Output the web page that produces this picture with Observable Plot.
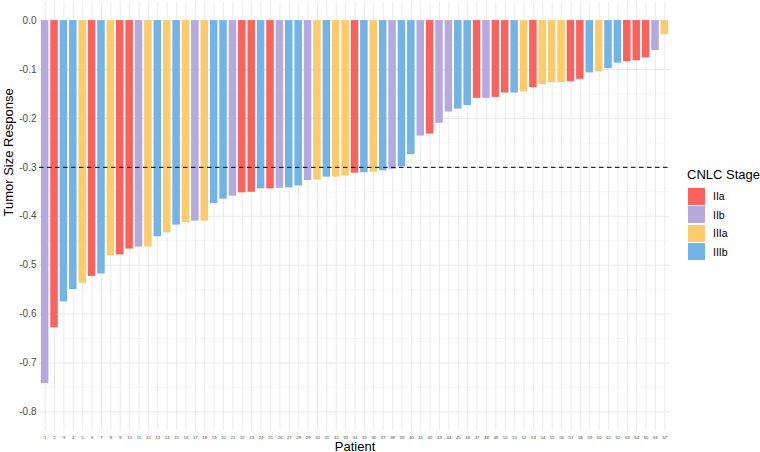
<!DOCTYPE html>
<html>
<head>
<meta charset="utf-8">
<script src="https://cdn.jsdelivr.net/npm/d3@7"></script>
<script src="https://cdn.jsdelivr.net/npm/@observablehq/plot@0.6"></script>
<style>
  html, body { margin: 0; padding: 0; background: #fff; }
  #wrap { position: relative; width: 760px; height: 452px; font-family: "Liberation Sans", Arial, sans-serif; }
  #legend { position: absolute; left: 687px; top: 167px; font-family: "Liberation Sans", Arial, sans-serif; }
  #legend .title { font-size: 13px; color: #000; margin-bottom: 5px; white-space: nowrap; }
  #legend .row { display: flex; align-items: center; height: 18.5px; }
  #legend .sw { width: 17px; height: 17px; margin-left: 1px; }
  #legend .lab { font-size: 10.5px; color: #000; margin-left: 8px; }
</style>
</head>
<body>
<div id="wrap"><div id="legend"></div></div>
<script>
const patients = [1,2,3,4,5,6,7,8,9,10,11,12,13,14,15,16,17,18,19,20,21,22,23,24,25,26,27,28,29,30,31,32,33,34,35,36,37,38,39,40,41,42,43,44,45,46,47,48,49,50,51,52,53,54,55,56,57,58,59,60,61,62,63,64,65,66,67];
const responses = [-0.742,-0.628,-0.575,-0.550,-0.537,-0.523,-0.518,-0.481,-0.479,-0.467,
  -0.463,-0.463,-0.442,-0.434,-0.418,-0.413,-0.410,-0.410,-0.374,-0.365,
  -0.359,-0.352,-0.351,-0.344,-0.344,-0.343,-0.342,-0.338,-0.327,-0.326,
  -0.320,-0.320,-0.318,-0.312,-0.311,-0.310,-0.307,-0.304,-0.299,-0.274,
  -0.236,-0.232,-0.210,-0.187,-0.181,-0.174,-0.159,-0.159,-0.157,-0.148,
  -0.148,-0.146,-0.137,-0.131,-0.127,-0.127,-0.125,-0.120,-0.107,-0.105,
  -0.098,-0.087,-0.084,-0.082,-0.076,-0.061,-0.029];
const stages = ["IIb","IIa","IIIb","IIIb","IIIa","IIa","IIIb","IIIa","IIa","IIa",
  "IIb","IIIa","IIIb","IIIa","IIIb","IIIa","IIb","IIIa","IIIb","IIIb",
  "IIb","IIa","IIa","IIIb","IIa","IIb","IIIb","IIIb","IIb","IIIa",
  "IIIb","IIIa","IIIa","IIa","IIIb","IIIa","IIIb","IIb","IIIb","IIIb",
  "IIb","IIa","IIb","IIb","IIIb","IIIb","IIa","IIb","IIa","IIa",
  "IIIb","IIIa","IIa","IIIa","IIIa","IIIa","IIa","IIa","IIIb","IIIa",
  "IIIb","IIIb","IIa","IIa","IIa","IIb","IIIa"];
const stageDomain = ["IIa","IIb","IIIa","IIIb"];
const stageColors = ["#FC625D","#B6A9DD","#FDCB6B","#72B4E6"];
const yMajor = [0,-0.1,-0.2,-0.3,-0.4,-0.5,-0.6,-0.7,-0.8];
const yMinor = [0.05,-0.05,-0.15,-0.25,-0.35,-0.45,-0.55,-0.65,-0.75,-0.85];
const threshold = [-0.3];

const data = patients.map((p, i) => ({patient: p, value: responses[i], stage: stages[i]}));

const font = '"Liberation Sans", Arial, sans-serif';

const chart = Plot.plot({
  width: 760,
  height: 452,
  marginLeft: 39,
  marginRight: 90,
  marginTop: 2,
  marginBottom: 22,
  style: {fontFamily: font, background: "#fff"},
  x: {type: "band", domain: patients, paddingInner: 0.2, paddingOuter: 0.2, align: 0.5, round: false},
  y: {domain: [-0.838, 0.037]},
  color: {domain: stageDomain, range: stageColors},
  marks: [
    Plot.gridY(yMinor, {stroke: "#EEEEEE", strokeOpacity: 1, strokeWidth: 0.5}),
    Plot.gridY(yMajor, {stroke: "#E8E8E8", strokeOpacity: 1, strokeWidth: 0.9}),
    Plot.gridX(patients, {stroke: "#E8E8E8", strokeOpacity: 1, strokeWidth: 0.9}),
    Plot.barY(data, {x: "patient", y: "value", fill: "stage"}),
    Plot.ruleY(threshold, {stroke: "#000", strokeWidth: 1, strokeDasharray: "4.5,3.5"}),
    Plot.axisY(yMajor, {tickSize: 0, tickPadding: 3, fontSize: 10, fill: "#4D4D4D", tickFormat: d => d.toFixed(1), label: null}),
    Plot.axisX(patients, {tickSize: 0, tickPadding: 5, fontSize: 4.3, fill: "#4D4D4D", label: null}),
    Plot.text(["Patient"], {frameAnchor: "bottom", dy: 20, fontSize: 13, fill: "#000", fontFamily: font}),
    Plot.text(["Tumor Size Response"], {frameAnchor: "left", dx: -31, rotate: -90, fontSize: 13, fill: "#000", fontFamily: font})
  ]
});

document.getElementById("wrap").prepend(chart);

const legend = document.getElementById("legend");
legend.innerHTML = '<div class="title">CNLC Stage</div>' +
  stageDomain.map((s, i) => '<div class="row"><div class="sw" style="background:' + stageColors[i] + '"></div><div class="lab">' + s + '</div></div>').join("");
</script>
</body>
</html>
